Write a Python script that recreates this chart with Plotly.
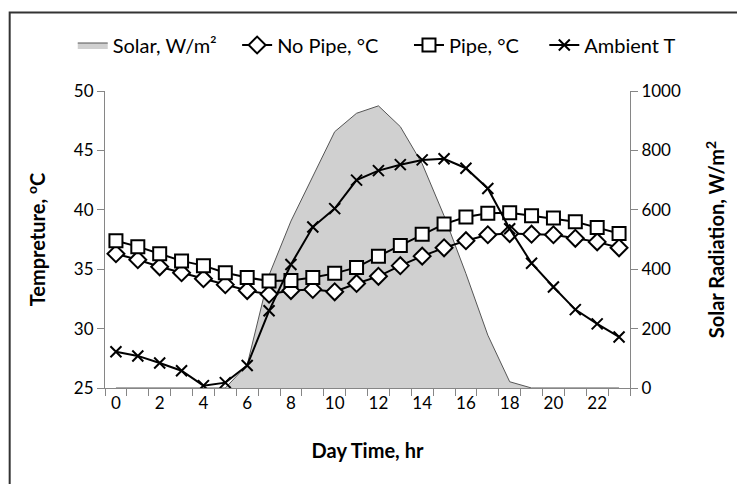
import plotly.graph_objects as go

hours = list(range(24))
solar = [0, 0, 0, 0, 0, 0, 78, 380, 562, 710, 863, 925, 950, 880, 755, 580, 385, 178, 21, 0, 0, 0, 0, 0]
no_pipe = [36.3, 35.8, 35.2, 34.7, 34.2, 33.7, 33.2, 32.9, 33.2, 33.3, 33.1, 33.8, 34.4, 35.3, 36.1, 36.8,
           37.4, 37.9, 38.0, 37.95, 37.9, 37.6, 37.3, 36.8]
pipe = [37.4, 36.9, 36.3, 35.7, 35.3, 34.7, 34.3, 34.0, 34.05, 34.3, 34.65, 35.15, 36.1, 37.0, 37.95, 38.8,
        39.4, 39.7, 39.75, 39.5, 39.3, 39.0, 38.5, 38.0]
ambient = [28.05, 27.7, 27.1, 26.45, 25.2, 25.45, 26.9, 31.5, 35.4, 38.55, 40.1, 42.5, 43.3, 43.8, 44.2, 44.3,
           43.5, 41.8, 38.4, 35.5, 33.5, 31.6, 30.4, 29.3]
xtick_vals = list(range(0, 23, 2))
names = ["Solar, W/m²", "No Pipe, °C", "Pipe, °C", "Ambient T"]

FONT = "Lato"
AX = "#868686"
NB = "\u00a0"
gaps = [3, 5, 4, 0]
labels = [n + NB * g for n, g in zip(names, gaps)]

fig = go.Figure()
fig.add_trace(go.Scatter(x=hours, y=solar, name=labels[0], mode="lines", fill="tozeroy",
                         fillcolor="#d0d0d0", line=dict(color="#555555", width=1), yaxis="y"))
fig.add_trace(go.Scatter(x=hours, y=no_pipe, name=labels[1], mode="lines+markers",
                         line=dict(color="black", width=2),
                         marker=dict(symbol="diamond", size=13, color="white", line=dict(color="black", width=2)),
                         yaxis="y2"))
fig.add_trace(go.Scatter(x=hours, y=pipe, name=labels[2], mode="lines+markers",
                         line=dict(color="black", width=2),
                         marker=dict(symbol="square", size=13, color="white", line=dict(color="black", width=2)),
                         yaxis="y2"))
fig.add_trace(go.Scatter(x=hours, y=ambient, name=labels[3], mode="lines+markers",
                         line=dict(color="black", width=2),
                         marker=dict(symbol="x-thin", size=11, color="black", line=dict(color="black", width=2)),
                         yaxis="y2"))

L, R, T, B = 105, 95, 91, 96
W, H = 737, 484
pw, ph = W - L - R, H - T - B

fig.update_layout(
    width=W, height=H,
    margin=dict(l=L, r=R, t=T, b=B, pad=0),
    paper_bgcolor="white", plot_bgcolor="white",
    font=dict(family=FONT, size=17, color="black"),
    showlegend=True,
    legend=dict(orientation="h", x=(72 - L) / pw, xanchor="left", y=1 + (T - 45) / ph, yanchor="middle",
                font=dict(family=FONT, size=20), bgcolor="rgba(0,0,0,0)", itemwidth=30, tracegroupgap=0),
    xaxis=dict(range=[-0.5, 23.5], tickvals=xtick_vals, ticks="", showline=True, linecolor=AX, linewidth=1,
               showgrid=False, zeroline=False, tickfont=dict(size=17), anchor="y",
               minor=dict(tickvals=[h - 0.5 for h in hours] + [23.5], ticks="outside", ticklen=7,
                          tickcolor=AX, tickwidth=1, showgrid=False),
               title=dict(text="<b>Day Time, hr</b>", font=dict(size=20), standoff=31)),
    yaxis=dict(range=[0, 1000], dtick=200, side="right", showline=True, linecolor=AX, linewidth=1,
               ticks="outside", ticklen=7, tickcolor=AX, showgrid=False, zeroline=False,
               tickfont=dict(size=17),
               title=dict(text="<b>Solar Radiation, W/m<sup>2</sup></b>", font=dict(size=20), standoff=30)),
    yaxis2=dict(range=[25, 50], dtick=5, side="left", overlaying="y", showline=True, linecolor=AX,
                linewidth=1, ticks="outside", ticklen=7, tickcolor=AX, showgrid=False, zeroline=False,
                tickfont=dict(size=17),
                title=dict(text="<b>Tempreture, <sup>o</sup>C</b>", font=dict(size=20), standoff=22)),
    shapes=[dict(type="rect", xref="paper", yref="paper",
                 x0=(7.5 - L) / pw, x1=1.5, y0=-0.5, y1=1 + (T - 12.5) / ph,
                 line=dict(color="#333333", width=2), fillcolor="rgba(0,0,0,0)", layer="below")],
)

fig.write_html("out.html")
